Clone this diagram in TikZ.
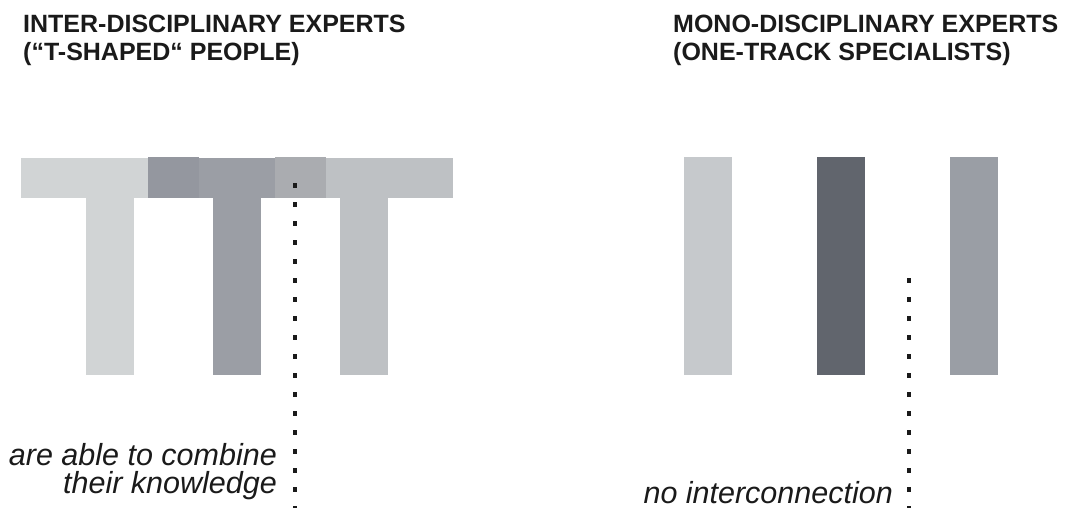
\documentclass[tikz,border=0pt]{standalone}
\usepackage{fontspec}
\setmainfont{Liberation Sans}
\usetikzlibrary{calc,positioning}

\definecolor{greyA}{HTML}{D1D4D5}
\definecolor{greyB}{HTML}{9B9EA5}
\definecolor{greyC}{HTML}{BEC1C4}
\definecolor{mixAB}{HTML}{94979F}
\definecolor{mixBC}{HTML}{AAACB0}
\definecolor{solo1}{HTML}{C6C9CC}
\definecolor{solo2}{HTML}{61656D}
\definecolor{solo3}{HTML}{9A9EA5}
\definecolor{ink}{HTML}{1A1A1A}

\tikzset{
  tbar/.style={rectangle,inner sep=0,outer sep=0,minimum width=178pt,minimum height=40pt},
  tstem/.style={rectangle,inner sep=0,outer sep=0,minimum width=48pt,minimum height=176.7pt},
  overlap/.style={rectangle,inner sep=0,outer sep=0,minimum width=51pt,minimum height=41pt},
  pillar/.style={rectangle,inner sep=0,outer sep=0,minimum width=48pt,minimum height=217.7pt},
  headline/.style={inner sep=0,text=ink,font=\fontsize{25}{30}\selectfont\bfseries},
  remark/.style={inner sep=0,text=ink,font=\fontsize{30.5}{30}\selectfont\itshape},
  dotline/.style={draw=ink,line width=4pt,dash pattern=on 5pt off 14pt}
}

\begin{document}
\begin{tikzpicture}[x=1pt,y=-1pt]
\useasboundingbox (0,0) rectangle (1069,509);

% T-shaped people
\draw node [tbar,fill=greyA](bar1) at (109.7,178.3){};
\draw node [tstem,fill=greyA,below=0pt of bar1](stem1){};
\draw node [tbar,fill=greyB](bar2) at (236.7,178.3){};
\draw node [tstem,fill=greyB,below=0pt of bar2](stem2){};
\draw node [tbar,fill=greyC](bar3) at (364.3,178.3){};
\draw node [tstem,fill=greyC,below=0pt of bar3](stem3){};

\draw node [overlap,fill=mixAB](mix12) at (173.2,177.8){};
\draw node [overlap,fill=mixBC](mix23) at (300.4,177.8){};

% one-track specialists
\draw node [pillar,fill=solo1](solo1) at (708,266.2){};
\draw node [pillar,fill=solo2](solo2) at (840.8,266.2){};
\draw node [pillar,fill=solo3](solo3) at (974,266.2){};

% dotted links
\coordinate (linkTop) at ($ (mix23.north)+(-5.4,25.7) $);
\coordinate (linkEnd) at (295,508);
\draw[dotline] (linkTop) -- (linkEnd);

\coordinate (gapTop) at (909.3,278.3);
\coordinate (gapEnd) at (909.3,508);
\draw[dotline] (gapTop) -- (gapEnd);

% headings
\draw node [headline,anchor=base west](interA) at (23,32){INTER-DISCIPLINARY EXPERTS};
\draw node [headline,anchor=base west](interB) at ($ (interA.base west)+(0,28.5) $){(“T-SHAPED“ PEOPLE)};

\draw node [headline,anchor=base west](monoA) at (673,32){MONO-DISCIPLINARY EXPERTS};
\draw node [headline,anchor=base west](monoB) at ($ (monoA.base west)+(0,28.5) $){(ONE-TRACK SPECIALISTS)};

% notes
\draw node [remark,anchor=base east](combineA) at (277,465){are able to combine};
\draw node [remark,anchor=base east](combineB) at ($ (combineA.base east)+(0,28.3) $){their knowledge};

\draw node [remark,anchor=base east](apart) at (893,503){no interconnection};

\end{tikzpicture}
\end{document}
